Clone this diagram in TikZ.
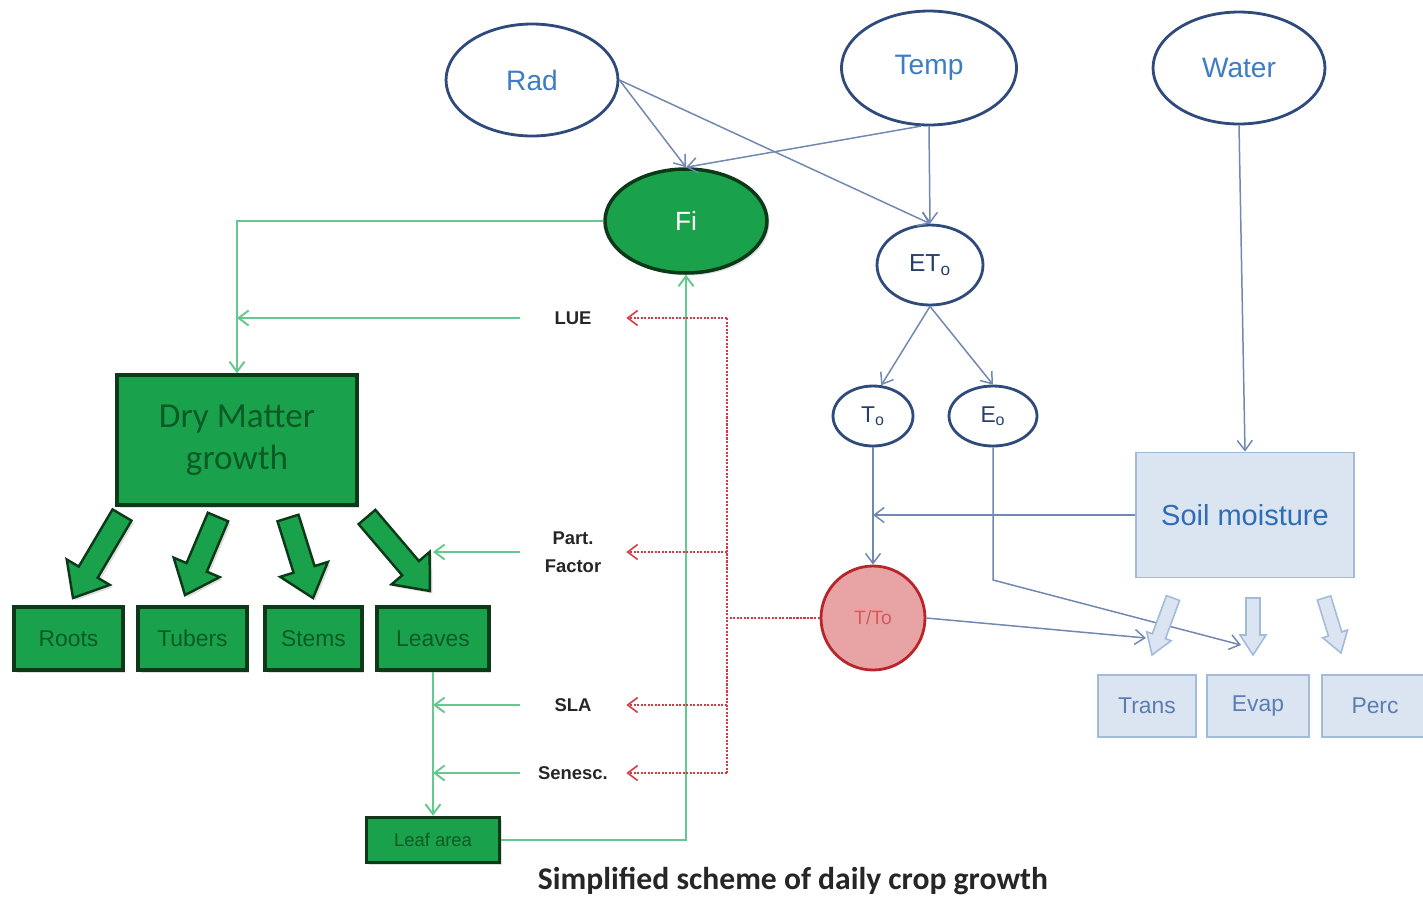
\documentclass[tikz,border=0pt]{standalone}
\usepackage{fontspec}
\setmainfont{Liberation Sans}
\newfontfamily\calib{Carlito}
\usetikzlibrary{shapes.geometric,arrows.meta,calc,shadows}
\definecolor{navy}{HTML}{2F4B7C}
\definecolor{lblue}{HTML}{3C7DC4}
\definecolor{conn}{HTML}{7189B0}
\definecolor{gfill}{HTML}{19A24B}
\definecolor{gdark}{HTML}{0C3A19}
\definecolor{gtext}{HTML}{0C5A26}
\definecolor{gline}{HTML}{63C98E}
\definecolor{sfill}{HTML}{DBE5F1}
\definecolor{sdraw}{HTML}{A3BBDA}
\definecolor{stext}{HTML}{2E6DB5}
\definecolor{ptext}{HTML}{5A7DB2}
\definecolor{rfill}{HTML}{E8A4A4}
\definecolor{rdraw}{HTML}{B8262B}
\definecolor{rtext}{HTML}{D9585A}
\definecolor{rline}{HTML}{D23A45}
\definecolor{ltext}{HTML}{262626}
\newcommand\blockarr[6]{%
  \coordinate (tmpc) at ($(#2)!#5!(#1)$);
  \path[#6] ($(#1)!#3!90:(#2)$) -- ($(tmpc)!#3!90:(#2)$) -- ($(tmpc)!#4!90:(#2)$) -- (#2)
    -- ($(tmpc)!#4!-90:(#2)$) -- ($(tmpc)!#3!-90:(#2)$) -- ($(#1)!#3!-90:(#2)$) -- cycle;}
\begin{document}
\begin{tikzpicture}[x=0.02cm,y=-0.02cm,
  ell/.style={ellipse,draw=navy,line width=1.6pt,fill=white,inner sep=0pt},
  bigtxt/.style={font=\fontsize{16pt}{18pt}\selectfont,text=lblue},
  smtxt/.style={font=\fontsize{13pt}{15pt}\selectfont,text=navy!85!black},
  gbox/.style={rectangle,draw=gdark,line width=2pt,fill=gfill,inner sep=0pt,text=gtext,
    drop shadow={shadow xshift=0.05cm,shadow yshift=-0.05cm,opacity=0.25}},
  pbox/.style={rectangle,draw=sdraw,line width=1pt,fill=sfill,inner sep=0pt,text=ptext,
    font=\fontsize{13pt}{15pt}\selectfont},
  lbl/.style={minimum width=2.12cm,inner sep=0pt,align=center,text=ltext,
    font=\bfseries\fontsize{10.5pt}{16pt}\selectfont},
  bl/.style={draw=conn,line width=0.85pt,-{Straight Barb[length=0.2cm,width=0.3cm]}},
  gr/.style={draw=gline,line width=1.1pt,-{Straight Barb[length=0.2cm,width=0.3cm]}},
  rd/.style={draw=rline,line width=0.9pt,dash pattern=on 1.2pt off 0.8pt},
  rda/.style={rd,-{Straight Barb[length=0.2cm,width=0.3cm]}},
  garr/.style={fill=gfill,draw=gdark,line width=1.4pt,
    drop shadow={shadow xshift=0.05cm,shadow yshift=-0.05cm,opacity=0.25}},
  barr/.style={fill=sfill,draw=sdraw,line width=0.9pt}]
\useasboundingbox (0,0) rectangle (1423,897);
% top inputs
\node[ell,bigtxt,minimum width=3.44cm,minimum height=2.24cm] (rad) at (532,80) {Rad};
\node[ell,bigtxt,minimum width=3.5cm,minimum height=2.28cm] (temp) at (929,68) {Temp};
\node[ell,bigtxt,minimum width=3.44cm,minimum height=2.24cm] (water) at (1239,68) {Water};
\node[ellipse,draw=gdark,line width=2pt,fill=gfill,inner sep=0pt,text=white,
  font=\fontsize{15pt}{17pt}\selectfont,minimum width=3.24cm,minimum height=2.08cm,
  drop shadow={shadow xshift=0.05cm,shadow yshift=-0.05cm,opacity=0.25}] (fi) at (686,221) {Fi};
\node[ell,smtxt,font=\fontsize{14pt}{16pt}\selectfont,minimum width=2.12cm,minimum height=1.6cm] (eto) at (930,265) {ET\textsubscript{o}};
\node[ell,smtxt,minimum width=1.6cm,minimum height=1.2cm] (to) at (873,416) {T\textsubscript{o}};
\node[ell,smtxt,minimum width=1.76cm,minimum height=1.2cm] (eo) at (993,416) {E\textsubscript{o}};
\node[circle,draw=rdraw,line width=1.6pt,fill=rfill,inner sep=0pt,minimum size=2.08cm,
  text=rtext,font=\fontsize{11pt}{13pt}\selectfont] (tto) at (873,618) {T/To};
% soil water
\node[rectangle,draw=sdraw,line width=1pt,fill=sfill,minimum width=4.36cm,minimum height=2.5cm,
  text=stext,font=\fontsize{16.5pt}{18pt}\selectfont] (soil) at (1245,515) {Soil moisture};
\node[pbox,minimum width=1.96cm,minimum height=1.24cm] (trans) at (1147,706) {Trans};
\node[pbox,minimum width=2.04cm,minimum height=1.24cm] (evap) at (1258,706) {Evap};
\node[pbox,minimum width=2.12cm,minimum height=1.24cm] (perc) at (1375,706) {Perc};
% crop
\node[gbox,minimum width=4.8cm,minimum height=2.6cm,align=center,
  font=\calib\fontsize{20pt}{24pt}\selectfont] (dm) at (237,440) {Dry Matter\\growth};
\node[gbox,minimum width=2.18cm,minimum height=1.26cm,font=\fontsize{13pt}{15pt}\selectfont] (roots) at (68.5,638.5) {Roots};
\node[gbox,minimum width=2.18cm,minimum height=1.26cm,font=\fontsize{13pt}{15pt}\selectfont] (tubers) at (192.5,638.5) {Tubers};
\node[gbox,minimum width=1.94cm,minimum height=1.26cm,font=\fontsize{13pt}{15pt}\selectfont] (stems) at (313.5,638.5) {Stems};
\node[gbox,minimum width=2.24cm,minimum height=1.26cm,font=\fontsize{13pt}{15pt}\selectfont] (leaves) at (433,638.5) {Leaves};
\node[gbox,minimum width=2.66cm,minimum height=0.9cm,font=\fontsize{10.5pt}{12pt}\selectfont] (leafarea) at (433,840) {Leaf area};
% labels
\node[lbl] (lue) at (573,318) {LUE};
\node[lbl] (part) at (573,552) {Part.\\Factor};
\node[lbl] (sla) at (573,705) {SLA};
\node[lbl] (sen) at (573,773) {Senesc.};
\node[font=\calib\bfseries\fontsize{18pt}{20pt}\selectfont,text=ltext] (cap) at (793,881) {Simplified scheme of daily crop growth};
% blue connectors
\draw[bl] (rad.east) -- (fi.north);
\draw[bl] (rad.east) -- (eto.north);
\draw[bl] (temp.262) -- (fi.north);
\draw[bl] (temp.south) -- (eto.north);
\draw[bl] (water.south) -- (soil.north);
\draw[bl] (eto.south) -- (to.75);
\draw[bl] (eto.south) -- (eo.north);
\draw[bl] (to.south) -- (tto.north);
\coordinate (j1) at (to.south |- soil.west);
\draw[bl] (soil.west) -- (j1);
\coordinate (transtip) at (1146,638);
\coordinate (evaptip) at (1241,645);
\coordinate (eobend) at (993,580);
\draw[bl] (eo.south) -- (eobend) -- (evaptip);
\draw[bl] (tto.east) -- (transtip);
% green connectors
\draw[gr] (fi.west) -| (dm.north);
\draw[gr] (lue.west) -- (lue.west -| dm.north);
\draw[gr] (part.west) -- (part.west -| leaves.north);
\draw[gr] (leaves.south) -- (leafarea.north);
\draw[gr] (sla.west) -- (sla.west -| leaves.south);
\draw[gr] (sen.west) -- (sen.west -| leaves.south);
\draw[gr] (leafarea.east) -| (fi.south);
% red dotted
\coordinate (rj) at (727,618);
\draw[rd] (tto.west) -- (rj);
\draw[rd] (rj |- lue.east) -- (rj |- sen.east);
\draw[rda] (rj |- lue.east) -- (lue.east);
\draw[rda] (rj |- part.east) -- (part.east);
\draw[rda] (rj |- sla.east) -- (sla.east);
\draw[rda] (rj |- sen.east) -- (sen.east);
% block arrows
\coordinate (a1s) at (122,515); \coordinate (a1e) at (73,598);
\coordinate (a2s) at (218,517); \coordinate (a2e) at (185,595);
\coordinate (a3s) at (288,518); \coordinate (a3e) at (313,598);
\coordinate (a4s) at (367,517); \coordinate (a4e) at (430,591);
\blockarr{a1s}{a1e}{0.22cm}{0.5cm}{0.6cm}{garr}
\blockarr{a2s}{a2e}{0.22cm}{0.5cm}{0.6cm}{garr}
\blockarr{a3s}{a3e}{0.22cm}{0.5cm}{0.6cm}{garr}
\blockarr{a4s}{a4e}{0.22cm}{0.5cm}{0.6cm}{garr}
\coordinate (b1s) at (1173,598); \coordinate (b1e) at (1152,655);
\coordinate (b2s) at (1253,598); \coordinate (b2e) at (1253,655);
\coordinate (b3s) at (1324,598); \coordinate (b3e) at (1341,653);
\blockarr{b1s}{b1e}{0.14cm}{0.26cm}{0.4cm}{barr}
\blockarr{b2s}{b2e}{0.14cm}{0.26cm}{0.4cm}{barr}
\blockarr{b3s}{b3e}{0.14cm}{0.26cm}{0.4cm}{barr}
\end{tikzpicture}
\end{document}
